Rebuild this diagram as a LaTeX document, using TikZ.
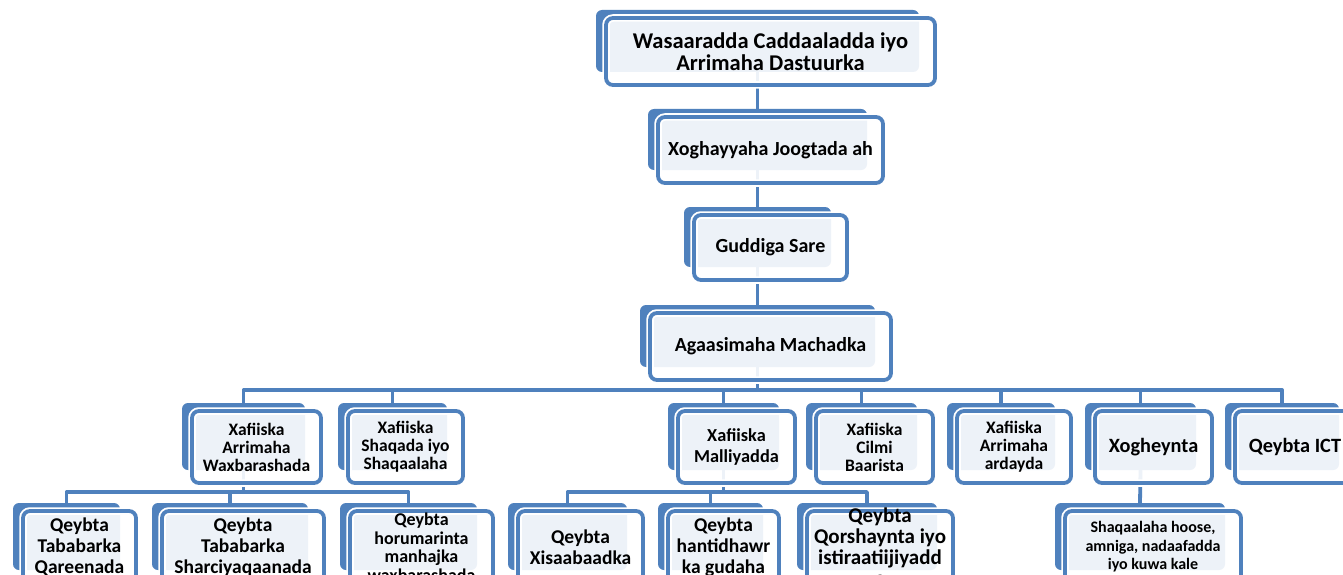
\documentclass[tikz,border=0pt]{standalone}
\usepackage{fontspec}
\setmainfont{Carlito}
\usetikzlibrary{backgrounds}
\definecolor{obblue}{HTML}{4F81BD}
\tikzset{
 backbox/.style={rectangle, rounded corners=6pt, fill=obblue, inner sep=0pt, outer sep=0pt},
 frontbox/.style={rectangle, rounded corners=7pt, fill=white, fill opacity=0.9, draw=obblue, draw opacity=1, line width=3.8pt, inner sep=0pt, outer sep=0pt, preaction={draw=white, draw opacity=1, line width=7.5pt}},
 conn/.style={draw=obblue, line width=3.8pt, line join=round},
 lbl/.style={align=center, inner sep=0pt, text=black},
 tTop/.style={font=\fontsize{22.5}{22}\selectfont\bfseries},
 tA/.style={font=\fontsize{20}{22}\selectfont\bfseries},
 tB/.style={font=\fontsize{17.5}{18}\selectfont\bfseries},
 tBm/.style={font=\fontsize{18.3}{21}\selectfont\bfseries},
 tBb/.style={font=\fontsize{20.3}{20}\selectfont\bfseries},
 tC/.style={font=\fontsize{19.5}{21}\selectfont\bfseries},
 tCq/.style={font=\fontsize{21}{21}\selectfont\bfseries},
 tD/.style={font=\fontsize{18}{18.5}\selectfont\bfseries},
 tE/.style={font=\fontsize{16}{18.5}\selectfont\bfseries},
}
\newcommand{\orgbox}[7]{%
 \pgfmathsetmacro\obW{#4-#2}\pgfmathsetmacro\obH{#5-#3}%
 \pgfmathsetmacro\obX{(#2+#4)/2}\pgfmathsetmacro\obY{(#3+#5)/2}%
 \pgfmathsetmacro\obFW{#4-#2+6}\pgfmathsetmacro\obFH{#5-#3+5}%
 \node[backbox, minimum width=\obW pt, minimum height=\obH pt] (#1) at (\obX,\obY) {};
 \node[frontbox, minimum width=\obFW pt, minimum height=\obFH pt] (#1f) at (\obX+13,\obY+10.5) {};
 \node[lbl, #6] (#1t) at (#1f.center) {#7};
}
\begin{document}
\begin{tikzpicture}[x=1pt,y=-1pt]
\useasboundingbox (0,0) rectangle (1343,575);
% trunk
\orgbox{wasaarad}{596}{10}{919}{72}{tTop}{Wasaaradda Caddaaladda iyo\\Arrimaha Dastuurka}
\orgbox{xoghay}{648}{109}{867}{170}{tA}{Xoghayyaha Joogtada ah}
\orgbox{guddi}{684}{207}{831}{267}{tA}{Guddiga Sare}
\orgbox{agaasi}{640}{305}{875}{367}{tA}{Agaasimaha Machadka}
% second row
\orgbox{waxb}{182}{403}{305}{470}{tB}{Xafiiska\\Arrimaha\\Waxbarashada}
\orgbox{shaq}{338}{403}{447}{470}{tB}{Xafiiska\\Shaqada iyo\\Shaqaalaha}
\orgbox{mall}{668}{403}{779}{470}{tBm}{Xafiiska\\Malliyadda}
\orgbox{cilmi}{806}{403}{917}{470}{tB}{Xafiiska\\Cilmi\\Baarista}
\orgbox{arday}{947}{403}{1055}{470}{tB}{Xafiiska\\Arrimaha\\ardayda}
\orgbox{xogh}{1085}{403}{1196}{470}{tBb}{Xogheynta}
\orgbox{ict}{1225}{403}{1339}{470}{tBb}{Qeybta ICT}
% third row
\orgbox{qaree}{13}{503}{120}{570}{tC}{Qeybta\\Tababarka\\Qareenada}
\orgbox{sharci}{152}{503}{308}{570}{tC}{Qeybta\\Tababarka\\Sharciyaqaanada}
\orgbox{horum}{340}{503}{477}{570}{tD}{Qeybta\\horumarinta\\manhajka\\waxbarashada}
\orgbox{xisaab}{508}{503}{627}{570}{tC}{Qeybta\\Xisaabaadka}
\orgbox{hanti}{658}{503}{763}{570}{tC}{Qeybta\\hantidhawr\\ka gudaha}
\orgbox{qorsh}{797}{503}{937}{570}{tCq}{Qeybta\\Qorshaynta iyo\\istiraatiijiyadd\\a}
\orgbox{shaqhoose}{1055}{503}{1225}{570}{tE}{Shaqaalaha hoose,\\amniga, nadaafadda\\iyo kuwa kale}
\coordinate (busA) at (0,390);
\coordinate (busB) at (0,492);
\begin{pgfonlayer}{background}
\fill[white] (0,0) rectangle (1343,575);
\draw[conn] (wasaarad) -- (xoghay);
\draw[conn] (xoghay) -- (guddi);
\draw[conn] (guddi) -- (agaasi);
\foreach \c in {waxb,shaq,mall,cilmi,arday,xogh,ict}
  \draw[conn] (agaasi.south) -- (agaasi.south |- busA) -| (\c.north);
\foreach \c in {qaree,sharci,horum}
  \draw[conn] (waxb.south) -- (waxb.south |- busB) -| (\c.north);
\foreach \c in {xisaab,hanti,qorsh}
  \draw[conn] (mall.south) -- (mall.south |- busB) -| (\c.north);
\draw[conn] (xogh.south) -- (shaqhoose.north);
\end{pgfonlayer}
\end{tikzpicture}
\end{document}
